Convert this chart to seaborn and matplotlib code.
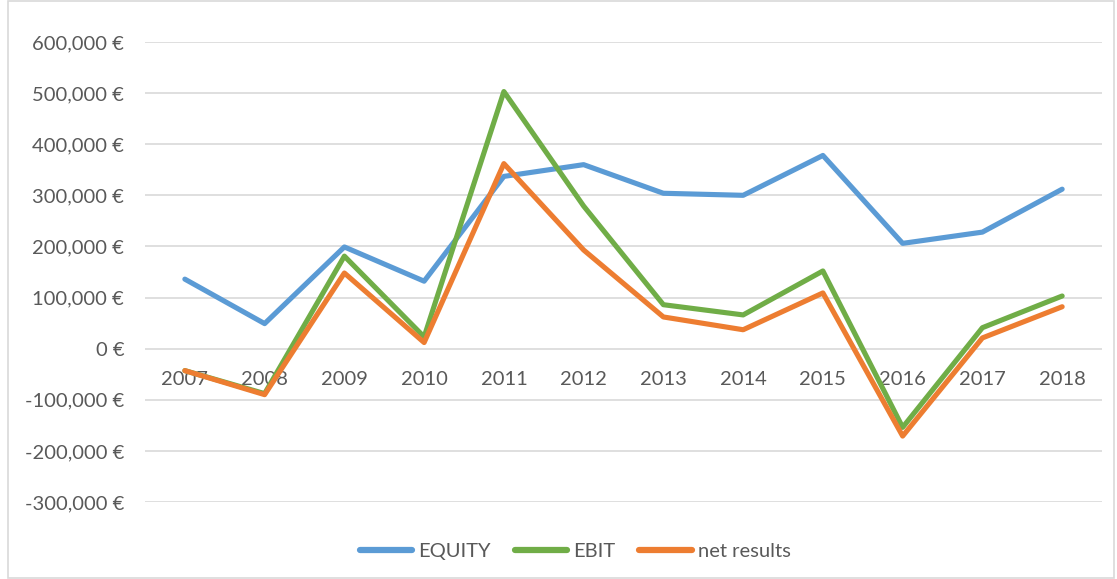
import pandas as pd
import numpy as np
import seaborn as sns
import matplotlib.pyplot as plt
from matplotlib.ticker import FuncFormatter

years = ['2007', '2008', '2009', '2010', '2011', '2012',
         '2013', '2014', '2015', '2016', '2017', '2018']
equity = [136000, 49000, 199000, 132000, 337000, 360000,
          304000, 300000, 378000, 206000, 228000, 312000]
ebit = [-43000, -88000, 181000, 23000, 503000, 279000,
        86000, 66000, 152000, -154000, 41000, 103000]
net_results = [-43000, -90000, 148000, 12000, 362000, 193000,
               62000, 37000, 109000, -171000, 21000, 82000]

series = ['EQUITY', 'EBIT', 'net results']
colores = ['#5B9BD5', '#70AD47', '#ED7D31']

df = pd.DataFrame({'year': years, 'EQUITY': equity, 'EBIT': ebit, 'net results': net_results})
df = df.melt(id_vars='year', var_name='serie', value_name='valor')

sns.set_style('white')
plt.rcParams['font.family'] = ['Lato', 'DejaVu Sans']

fig = plt.figure(figsize=(11.17, 5.79), dpi=100)
ax = fig.add_axes([0.1298, 0.133, 0.8568, 0.7945])

sns.lineplot(data=df, x='year', y='valor', hue='serie', hue_order=series,
             palette=colores, linewidth=3.7, sort=False, ax=ax, legend=True,
             solid_joinstyle='round', solid_capstyle='round')

ax.set_ylim(-300000, 600000)
ax.set_xlim(-0.5, len(years) - 0.5)
ax.set_yticks(np.arange(-300000, 600001, 100000))
ax.yaxis.set_major_formatter(FuncFormatter(lambda v, p: '{:,.0f} €'.format(v)))
ax.grid(axis='y', color='#D9D9D9', linewidth=1.2)
ax.set_axisbelow(True)

for s in ['top', 'right', 'left']:
    ax.spines[s].set_visible(False)
ax.spines['bottom'].set_position(('data', 0))
ax.spines['bottom'].set_color('none')

ax.tick_params(axis='both', length=0, labelsize=14.5, colors='#595959')
ax.tick_params(axis='x', pad=16)
ax.tick_params(axis='y', pad=15)
ax.set_xlabel('')
ax.set_ylabel('')

handles, labels = ax.get_legend_handles_labels()
for h in handles:
    h.set_linewidth(4.5)
    h.set_solid_capstyle('round')
ax.legend(handles, labels, loc='center', bbox_to_anchor=(0.515, 0.048),
          bbox_transform=fig.transFigure, ncol=3, frameon=False,
          fontsize=14.5, labelcolor='#595959', handlelength=2.6,
          handletextpad=0.3, columnspacing=1.2)

fig.patches.append(plt.Rectangle((0.007, 0.002), 0.99, 0.996, transform=fig.transFigure,
                                 fill=False, edgecolor='#D9D9D9', linewidth=1.2))

plt.savefig('out.png', dpi=100)
